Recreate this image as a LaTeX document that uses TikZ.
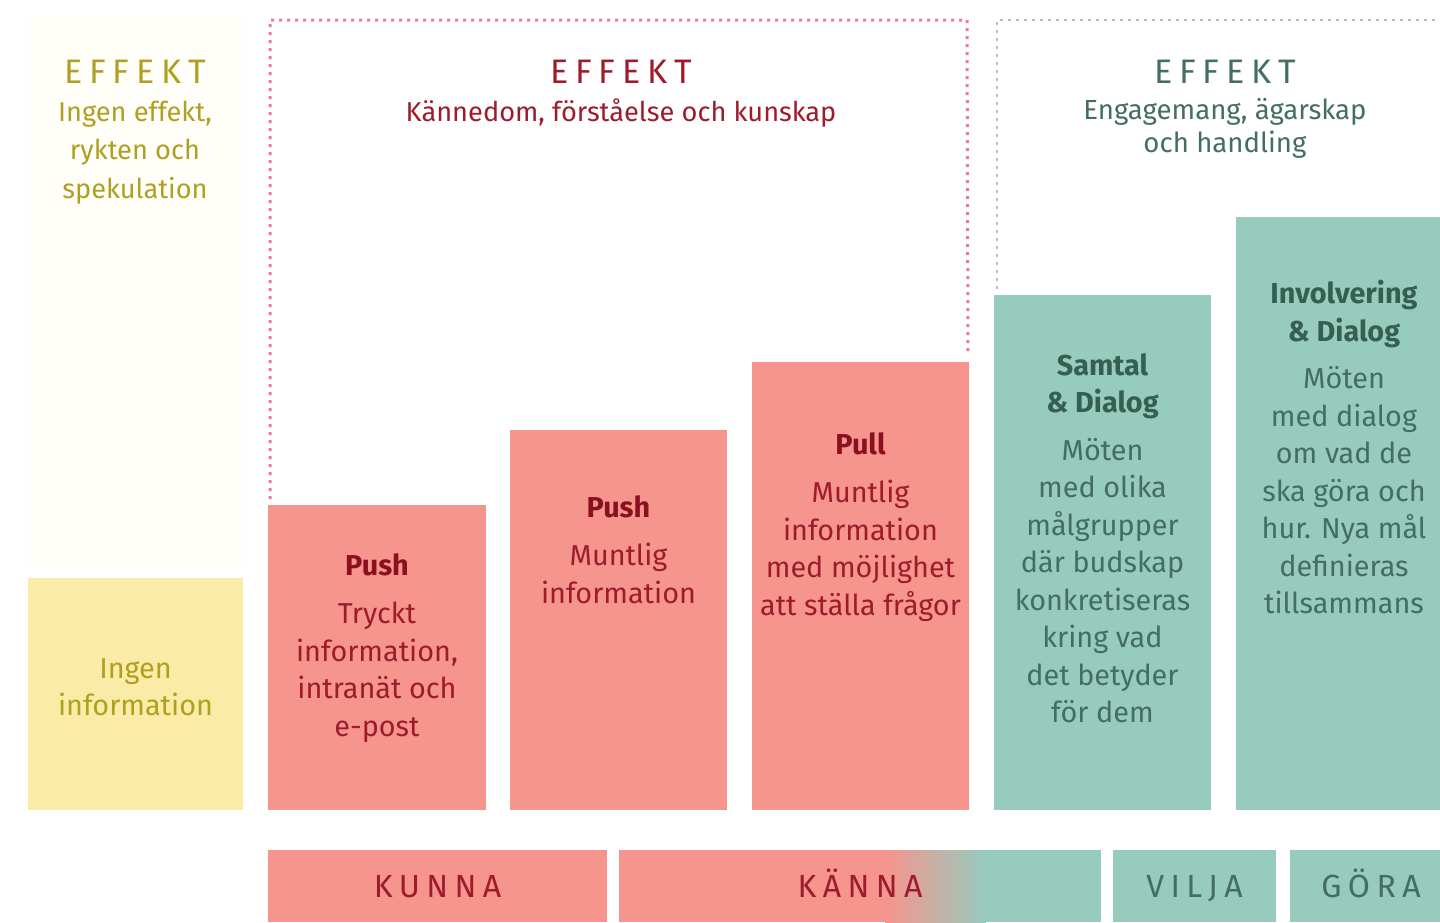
\documentclass[tikz,border=0pt]{standalone}
\usepackage{fontspec}
\setmainfont{Fira Sans}
\newfontfamily\spacedfont[LetterSpace=20]{Fira Sans}
\usetikzlibrary{positioning}
\definecolor{boxpink}{HTML}{F6958D}
\definecolor{boxteal}{HTML}{96CBBE}
\definecolor{boxyellow}{HTML}{FAEBA6}
\definecolor{txtred}{HTML}{9E1B2C}
\definecolor{txtreddark}{HTML}{8A1020}
\definecolor{txtteal}{HTML}{436E61}
\definecolor{txttealdark}{HTML}{35604F}
\definecolor{txtolive}{HTML}{B0A021}
\definecolor{dotpink}{HTML}{F07A95}
\definecolor{dotgrey}{HTML}{BDBDBD}

\begin{document}
\begin{tikzpicture}[x=0.5pt,y=-0.5pt,
  box/.style={anchor=south west,minimum width=108.5pt,inner sep=0pt,outer sep=0pt},
  bar/.style={anchor=south west,minimum height=36pt,inner sep=0pt,outer sep=0pt,
    text height=11.7pt,text depth=0pt,font=\spacedfont\fontsize{16}{18}\selectfont},
  bodytext/.style={anchor=north,align=center,inner sep=0pt,
    font=\fontsize{14.4}{18.75}\selectfont},
  efftitle/.style={anchor=north,inner sep=0pt,font=\spacedfont\fontsize{17}{20}\selectfont},
  efftext/.style={anchor=north,align=center,inner sep=0pt,font=\fontsize{13.6}{19.25}\selectfont}]
\useasboundingbox (0,0) rectangle (1440,922);
% faint column behind the left text
\fill[boxyellow!7] (28,15) rectangle (243,570);
% the steps
\node (ingen) [box,fill=boxyellow,minimum width=107.5pt,minimum height=116pt] at (28,810) {};
\node (pushA) [box,fill=boxpink,minimum width=109pt,minimum height=152.5pt] at (268,810) {};
\node (pushB) [box,fill=boxpink,minimum height=190pt] at (510,810) {};
\node (pull) [box,fill=boxpink,minimum height=224pt] at (752,810) {};
\node (samtal) [box,fill=boxteal,minimum height=257.5pt] at (994,810) {};
\node (involv) [box,fill=boxteal,minimum width=102pt,minimum height=296.5pt] at (1236,810) {};
% dotted frames
\draw[dotpink,line width=1.5pt,dash pattern=on 1.5pt off 2.5pt]
  ([xshift=1pt,yshift=3pt]pushA.north west) |- (967,20) -- ([xshift=-0.5pt,yshift=3pt]pull.north east);
\draw[dotgrey,line width=1.2pt,dash pattern=on 1.5pt off 2.5pt]
  ([xshift=1.5pt,yshift=3pt]samtal.north west) |- (1440,20);
% effect headings
\node (effA) [efftitle,text=txtolive] at (135,60) {EFFEKT};
\node (effAtxt) [efftext,text=txtolive,below=8pt of effA] {Ingen effekt,\\rykten och\\spekulation};
\node (effB) [efftitle,text=txtred] at (621,60) {EFFEKT};
\node (effBtxt) [efftext,text=txtred,below=7pt of effB] {Kännedom, förståelse och kunskap};
\node (effC) [efftitle,text=txtteal] at (1225,60) {EFFEKT};
\node (effCtxt) [efftext,text=txtteal,below=7pt of effC,font=\fontsize{13.8}{16.5}\selectfont]
  {Engagemang, ägarskap\\och handling};
% texts in the steps
\node (ingenTxt) [bodytext,text=txtolive,below=40pt of ingen.north] {Ingen\\information};
\node (pushATxt) [bodytext,text=txtred,below=24pt of pushA.north]
  {\textcolor{txtreddark}{\bfseries Push}\\[5.5pt]Tryckt\\information,\\intranät och\\e-post};
\node (pushBTxt) [bodytext,text=txtred,below=32.5pt of pushB.north]
  {\textcolor{txtreddark}{\bfseries Push}\\[5.5pt]Muntlig\\information};
\node (pullTxt) [bodytext,text=txtred,below=35pt of pull.north]
  {\textcolor{txtreddark}{\bfseries Pull}\\[5.5pt]Muntlig\\information\\med möjlighet\\att ställa frågor};
\node (samtalTxt) [bodytext,text=txtteal,below=29pt of samtal.north]
  {\textcolor{txttealdark}{\bfseries Samtal}\\\textcolor{txttealdark}{\bfseries\&~Dialog}\\[5pt]Möten\\med olika\\målgrupper\\där budskap\\konkretiseras\\kring vad\\det betyder\\för dem};
\node (involvTxt) [bodytext,text=txtteal,below=31.5pt of involv.north,xshift=3pt]
  {\textcolor{txttealdark}{\bfseries Involvering}\\\textcolor{txttealdark}{\bfseries\&~Dialog}\\[5pt]Möten\\med dialog\\om vad de\\ska göra och\\hur. Nya mål\\definieras\\tillsammans};
% bottom bars
\fill[boxpink] (619,850) rectangle (886,922);
\shade[left color=boxpink,right color=boxteal] (885,850) rectangle (986,922);
\fill[boxteal] (985,850) rectangle (1101,922);
\node (kunna) [bar,fill=boxpink,minimum width=169.5pt,text=txtred] at (268,922) {KUNNA};
\node (kanna) [bar,minimum width=241pt,text=txtred] at (619,922) {KÄNNA};
\node (vilja) [bar,fill=boxteal,minimum width=81.5pt,text=txtteal] at (1113,922) {VILJA};
\node (gora) [bar,fill=boxteal,minimum width=81pt,text=txtteal] at (1290,922) {GÖRA};
\end{tikzpicture}
\end{document}
